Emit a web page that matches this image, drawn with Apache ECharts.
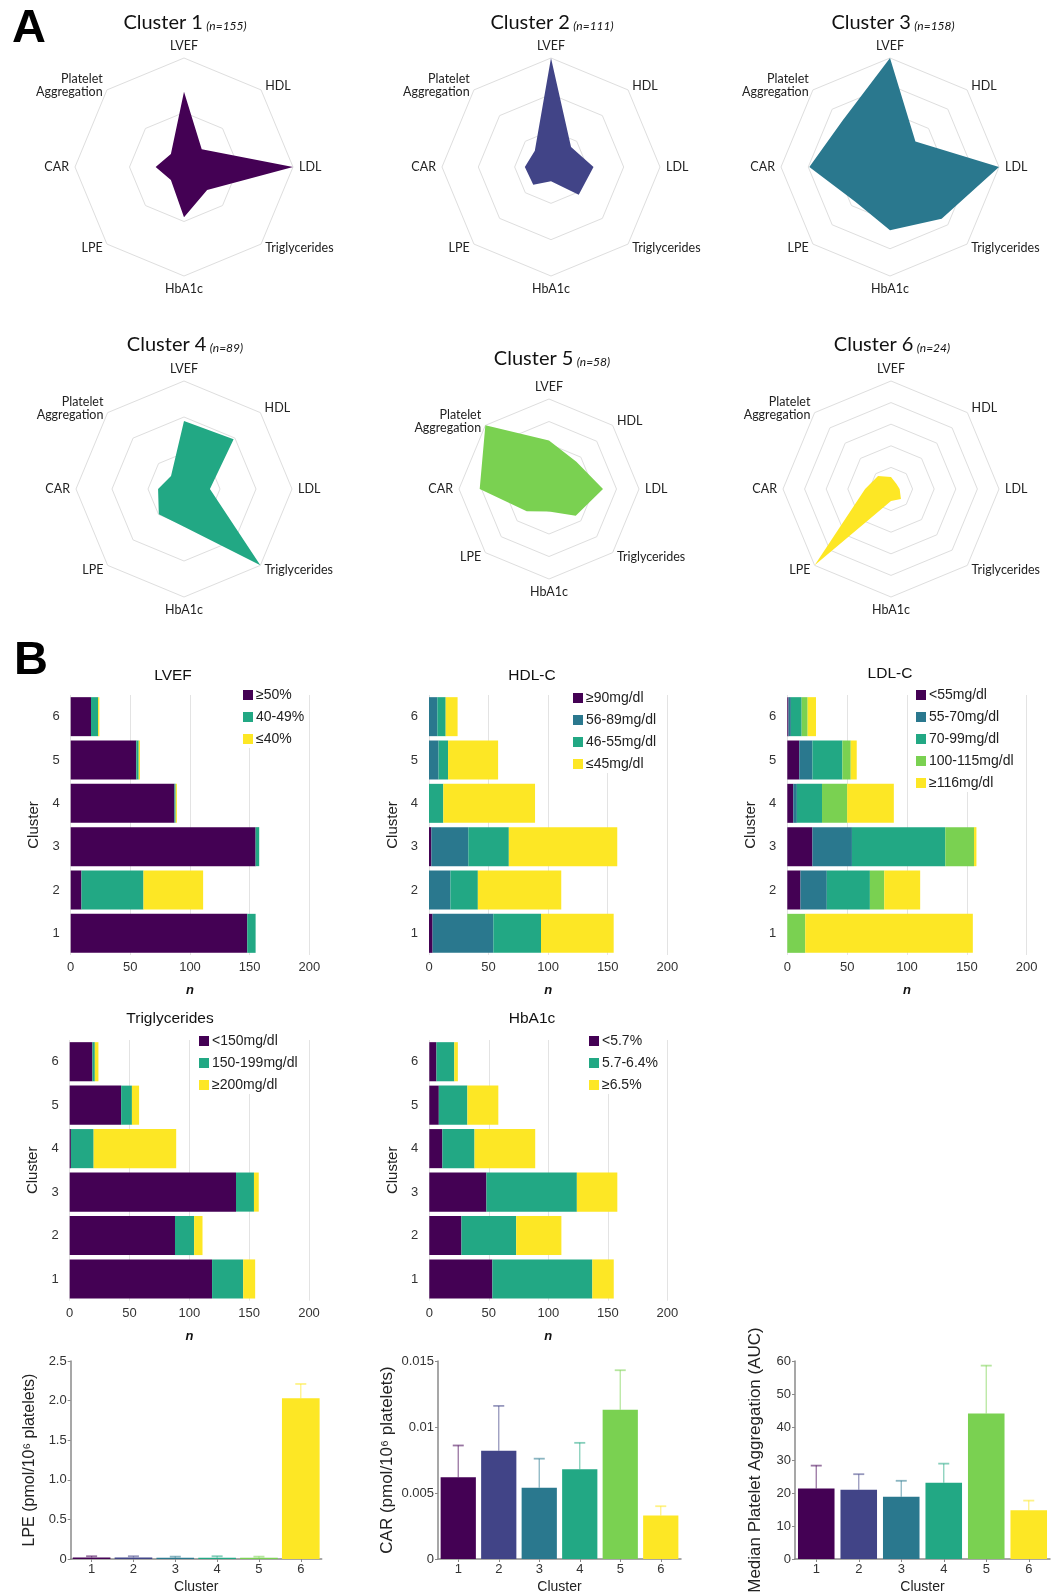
<!DOCTYPE html>
<html><head><meta charset="utf-8">
<script src="https://cdn.jsdelivr.net/npm/echarts@6/dist/echarts.min.js"></script>
<style>html,body{margin:0;padding:0;background:#fff}#c{width:1056px;height:1595px}</style>
</head><body><div id="c"></div>
<script>
// ---------------- DATA ----------------
const clusters = ['1','2','3','4','5','6'];
const clusterN = [155,111,158,89,58,24];
const palette = ['#440154','#414487','#2a788e','#22a884','#7ad151','#fde725'];

// Radar (clockwise from top): LVEF, HDL, LDL, Triglycerides, HbA1c, LPE, CAR, Platelet Aggregation
const radarAxes = ['LVEF','HDL','LDL','Triglycerides','HbA1c','LPE','CAR','Platelet\nAggregation'];
const radarCluster1 = [0.69,0.23,1.00,0.30,0.46,0.17,0.26,0.17];
const radarCluster2 = [1.00,0.26,0.39,0.36,0.13,0.23,0.24,0.21];
const radarCluster3 = [1.00,0.33,1.00,0.67,0.58,0.45,0.74,0.61];
const radarCluster4 = [0.63,0.65,0.24,1.00,0.35,0.33,0.24,0.17];
const radarCluster5 = [0.54,0.43,0.60,0.42,0.25,0.35,0.77,1.00];
const radarCluster6 = [0.11,0.07,0.08,0.13,0.11,1.00,0.24,0.17];
const radarRings = [2,3,4,3,4,5];

// B panel stacked bars (cluster 1..6)
const lvefLegend = ['≥50%','40-49%','≤40%'];
const lvefGe50 = [148,9,155,87,55,17];
const lvef40to49 = [7,52,3,1,2,6];
const lvefLe40 = [0,50,0,1,1,1];

const hdlLegend = ['≥90mg/dl','56-89mg/dl','46-55mg/dl','≤45mg/dl'];
const hdlGe90 = [3,0,2,0,0,0];
const hdl56to89 = [51,18,31,0,8,7];
const hdl46to55 = [40,23,34,12,8,7];
const hdlLe45 = [61,70,91,77,42,10];

const ldlLegend = ['<55mg/dl','55-70mg/dl','70-99mg/dl','100-115mg/dl','≥116mg/dl'];
const ldlLt55 = [0,11,21,5,10,1];
const ldl55to70 = [0,22,33,3,11,2];
const ldl70to99 = [0,36,78,21,25,9];
const ldl100to115 = [15,12,24,21,7,5];
const ldlGe116 = [140,30,2,39,5,7];

const tgLegend = ['<150mg/dl','150-199mg/dl','≥200mg/dl'];
const tgLt150 = [119,88,139,1,43,19];
const tg150to199 = [26,16,15,19,9,2];
const tgGe200 = [10,7,4,69,6,3];

const hbLegend = ['<5.7%','5.7-6.4%','≥6.5%'];
const hbLt57 = [53,27,48,11,8,6];
const hb57to64 = [84,46,76,27,24,15];
const hbGe65 = [18,38,34,51,26,3];

const nTicks = [0,50,100,150,200];

// Bottom bars: mean and upper error
const lpeMean = [0.02,0.02,0.015,0.015,0.015,2.03];
const lpeUpper = [0.035,0.035,0.03,0.035,0.03,2.21];
const lpeTicks = ['0','0.5','1.0','1.5','2.0','2.5'];
const carMean = [0.0062,0.0082,0.0054,0.0068,0.0113,0.0033];
const carUpper = [0.0086,0.0116,0.0076,0.0088,0.0143,0.0040];
const carTicks = ['0','0.005','0.01','0.015'];
const paMean = [21.4,21.0,18.9,23.1,44.1,14.8];
const paUpper = [28.3,25.7,23.7,28.9,58.6,17.7];
const paTicks = ['0','10','20','30','40','50','60'];

// ---------------- LAYOUT / OPTION ----------------
const chart = echarts.init(document.getElementById('c'), null, {renderer:'canvas'});
const radarData = [radarCluster1,radarCluster2,radarCluster3,radarCluster4,radarCluster5,radarCluster6];
const radarPos = [[184,167,109],[551,167,109],[890,167,109],[184,489,108],[549,489,90],[891,489,108]];
const radarTitlePos = [[185,23],[552,23],[893,23],[185,345],[552,359],[892,345]];
// ECharts radar runs counter-clockwise -> reorder
const ccw = [0,7,6,5,4,3,2,1];

const radars = radarPos.map((p,i)=>({
  center:[p[0],p[1]], radius:p[2], startAngle:90, shape:'polygon', splitNumber:radarRings[i],
  indicator: ccw.map(k=>({name:radarAxes[k], min:0, max:1})),
  axisName:{color:'#222', fontSize:12.5, fontFamily:'Lato'}, nameGap:6,
  axisLine:{show:false}, axisTick:{show:false}, axisLabel:{show:false},
  splitArea:{show:false}, splitLine:{lineStyle:{color:'#dedede', width:1}}
}));
const series = [];
radarData.forEach((d,i)=>{
  series.push({type:'radar', radarIndex:i, symbol:'none', silent:true,
    lineStyle:{width:0}, areaStyle:{color:palette[i], opacity:1},
    data:[{value: ccw.map(k=>d[k])}]});
});

const barFont = 'Liberation Sans';
const gridsB = [
  {left:70.7, top:695, width:238.6, height:260},
  {left:429, top:695, width:238.3, height:260},
  {left:787.3, top:695, width:239.4, height:260},
  {left:69.7, top:1040, width:239.3, height:260.7},
  {left:429.3, top:1040, width:238, height:260.7}
];
const grids = gridsB.slice();
const xAxes = [], yAxes = [];
gridsB.forEach((g,i)=>{
  xAxes.push({gridIndex:i, type:'value', min:nTicks[0], max:nTicks[nTicks.length-1], interval:nTicks[1]-nTicks[0],
    axisLine:{show:false}, axisTick:{show:false},
    axisLabel:{fontSize:13, color:'#333', fontFamily:barFont, margin:6},
    splitLine:{show:true, lineStyle:{color:'#e3e3e3', width:1}},
    name:'n', nameLocation:'middle', nameGap:29,
    nameTextStyle:{fontSize:13, fontWeight:'bold', fontStyle:'italic', color:'#111', fontFamily:barFont}});
  yAxes.push({gridIndex:i, type:'category', data:clusters,
    axisLine:{show:false}, axisTick:{show:false},
    axisLabel:{fontSize:13, color:'#333', fontFamily:barFont, margin:11},
    name:'Cluster', nameLocation:'middle', nameRotate:90, nameGap:29,
    nameTextStyle:{fontSize:15, color:'#222', fontFamily:barFont}});
});
function stack(gi, names, arrays, colors, id){
  names.forEach((n,k)=>{
    series.push({type:'bar', name:n, stack:id, xAxisIndex:gi, yAxisIndex:gi, barCategoryGap:'10%',
      itemStyle:{color:colors[k]}, data:arrays[k], silent:true});
  });
}
const P=palette;
stack(0, lvefLegend, [lvefGe50,lvef40to49,lvefLe40], [P[0],P[3],P[5]], 'lvef');
stack(1, hdlLegend, [hdlGe90,hdl56to89,hdl46to55,hdlLe45], [P[0],P[2],P[3],P[5]], 'hdl');
stack(2, ldlLegend, [ldlLt55,ldl55to70,ldl70to99,ldl100to115,ldlGe116], [P[0],P[2],P[3],P[4],P[5]], 'ldl');
stack(3, tgLegend, [tgLt150,tg150to199,tgGe200], [P[0],P[3],P[5]], 'tg');
stack(4, hbLegend, [hbLt57,hb57to64,hbGe65], [P[0],P[3],P[5]], 'hb');

function legend(names, left, top){
  return {data:names, orient:'vertical', left:left, top:top, itemWidth:10, itemHeight:10, itemGap:8,
    icon:'rect', backgroundColor:'#fff', padding:[2,4,2,3], selectedMode:false,
    textStyle:{fontSize:14, color:'#222', fontFamily:barFont, padding:[0,0,0,-2]}};
}
const legends = [
  legend(lvefLegend, 240, 686),
  legend(hdlLegend, 570, 689),
  legend(ldlLegend, 913, 686),
  legend(tgLegend, 196, 1032),
  legend(hbLegend, 586, 1032)
];

// Bottom row
const narrow = "'Liberation Sans Narrow', 'Liberation Sans', sans-serif";
const bottom = [
  {grid:{left:70.7, top:1361, width:251, height:203.3}, mean:lpeMean, upper:lpeUpper, ticks:lpeTicks, max:2.5, interval:0.5,
   name:'LPE (pmol/10⁶ platelets)', gap:33, font:barFont, nameSize:16, barGap:'10%', xName:'Cluster'},
  {grid:{left:438, top:1361, width:243, height:203.3}, mean:carMean, upper:carUpper, ticks:carTicks, max:0.015, interval:0.005,
   name:'CAR (pmol/10⁶ platelets)', gap:42, font:narrow, nameSize:17, barGap:'13%', xName:'Cluster'},
  {grid:{left:795, top:1361, width:255, height:203.3}, mean:paMean, upper:paUpper, ticks:paTicks, max:60, interval:10,
   name:'Median Platelet Aggregation (AUC)', gap:31, font:narrow, nameSize:17, barGap:'14%', xName:'Cluster'}
];
bottom.forEach((b,j)=>{
  const gi = grids.length;
  grids.push(b.grid);
  xAxes.push({gridIndex:gi, type:'category', data:clusters,
    axisLine:{show:true, lineStyle:{color:'#8a8a8a', width:1.5}},
    axisTick:{show:true, alignWithLabel:true, length:3, lineStyle:{color:'#8a8a8a'}},
    axisLabel:{fontSize:13, color:'#333', fontFamily:b.font, margin:4},
    name:b.xName, nameLocation:'middle', nameGap:21, nameTextStyle:{fontSize:14, color:'#222', fontFamily:b.font}});
  yAxes.push({gridIndex:gi, type:'value', min:0, max:b.max, interval:b.interval,
    axisLine:{show:true, lineStyle:{color:'#8a8a8a', width:1.5}},
    axisTick:{show:true, length:3, lineStyle:{color:'#8a8a8a'}},
    splitLine:{show:false},
    axisLabel:{fontSize:13, color:'#333', fontFamily:b.font, margin:4, formatter:(v,i)=>b.ticks[i]},
    name:b.name, nameLocation:'middle', nameRotate:90, nameGap:b.gap,
    nameTextStyle:{fontSize:b.nameSize, color:'#222', fontFamily:b.font}});
  series.push({type:'bar', xAxisIndex:gi, yAxisIndex:gi, barCategoryGap:b.barGap, silent:true,
    data:b.mean.map((v,i)=>({value:v, itemStyle:{color:palette[i]}}))});
  series.push({type:'custom', xAxisIndex:gi, yAxisIndex:gi, silent:true, z:5,
    encode:{x:0, y:[1,2]},
    data:b.mean.map((v,i)=>[i, v, b.upper[i]]),
    renderItem:(params, api)=>{
      const i = api.value(0);
      const p0 = api.coord([i, api.value(1)]);
      const p1 = api.coord([i, api.value(2)]);
      const c = palette[i];
      return {type:'group', children:[
        {type:'line', shape:{x1:p0[0], y1:p0[1], x2:p1[0], y2:p1[1]}, style:{stroke:c, opacity:0.55, lineWidth:1.3}},
        {type:'line', shape:{x1:p1[0]-5.5, y1:p1[1], x2:p1[0]+5.5, y2:p1[1]}, style:{stroke:c, opacity:0.55, lineWidth:1.8}}
      ]};
    }});
});

// Texts
const graphics = [];
radarTitlePos.forEach((p,i)=>{
  graphics.push({type:'text', x:p[0], y:p[1], silent:true, style:{
    text:'{a|Cluster '+clusters[i]+'} {b|(n='+clusterN[i]+')}', align:'center', verticalAlign:'middle',
    rich:{a:{fontSize:20, fontFamily:'Lato', fill:'#111', color:'#111', verticalAlign:'bottom'},
          b:{fontSize:12, fontStyle:'italic', fontFamily:'Lato', fill:'#111', color:'#111', verticalAlign:'bottom', padding:[0,0,1,0]}}}});
});
const barTitles = [['LVEF',173,676],['HDL-C',532,676],['LDL-C',890,674],['Triglycerides',170,1019],['HbA1c',532,1019]];
barTitles.forEach(t=>graphics.push({type:'text', x:t[1], y:t[2], silent:true,
  style:{text:t[0], align:'center', verticalAlign:'middle', fontSize:15.5, fontFamily:barFont, fill:'#111'}}));
graphics.push({type:'text', x:12, y:29, silent:true, style:{text:'A', align:'left', verticalAlign:'middle', fontSize:47, fontWeight:'bold', fontFamily:'Liberation Sans', fill:'#000'}});
graphics.push({type:'text', x:14, y:661, silent:true, style:{text:'B', align:'left', verticalAlign:'middle', fontSize:47, fontWeight:'bold', fontFamily:'Liberation Sans', fill:'#000'}});

chart.setOption({
  backgroundColor:'#fff', animation:false,
  radar:radars, grid:grids, xAxis:xAxes, yAxis:yAxes, legend:legends,
  series:series, graphic:graphics
});
</script></body></html>
